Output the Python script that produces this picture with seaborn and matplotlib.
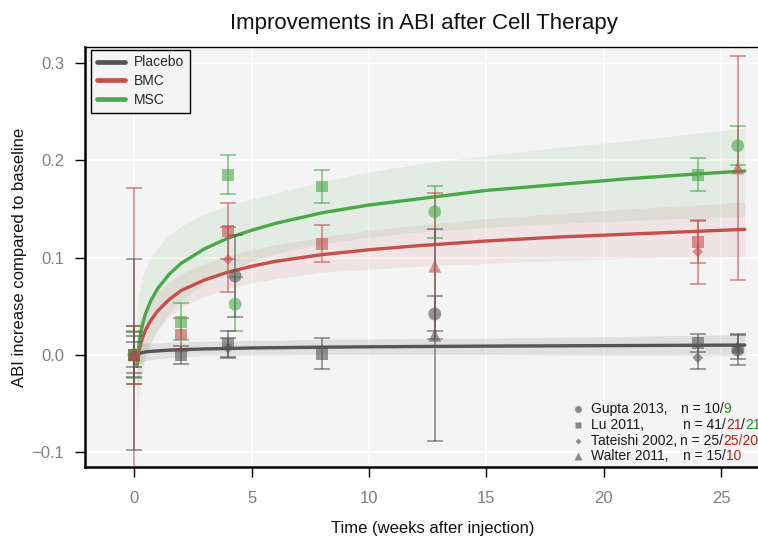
import matplotlib
matplotlib.use("Agg")
import matplotlib.pyplot as plt
import seaborn as sns
import pandas as pd
from matplotlib.lines import Line2D
from matplotlib.offsetbox import TextArea, HPacker, AnnotationBbox

# ---------------- data ----------------
groups = ["Placebo", "BMC", "MSC"]
colors = {"Placebo": "#555555", "BMC": "#c4504e", "MSC": "#4aa84a"}

# study observations
gupta_t = [0, 4.3, 12.8, 25.7]
gupta_placebo = [0.0, 0.081, 0.042, 0.005]
gupta_placebo_err = [0.013, 0.042, 0.018, 0.016]
gupta_msc = [0.0, 0.052, 0.147, 0.215]
gupta_msc_err = [0.024, 0.028, 0.027, 0.020]

lu_t = [0, 2, 4, 8, 24]
lu_placebo = [0.0, 0.0, 0.011, 0.001, 0.012]
lu_placebo_err = [0.019, 0.009, 0.013, 0.016, 0.009]
lu_bmc = [0.0, 0.021, 0.127, 0.114, 0.116]
lu_bmc_err = [0.030, 0.017, 0.029, 0.019, 0.022]
lu_msc = [0.0, 0.034, 0.185, 0.173, 0.185]
lu_msc_err = [0.030, 0.019, 0.020, 0.017, 0.017]

tateishi_t = [0, 4, 24]
tateishi_placebo = [0.0, 0.007, -0.003]
tateishi_placebo_err = [0.023, 0.010, 0.012]
tateishi_bmc = [0.0, 0.098, 0.106]
tateishi_bmc_err = [0.171, 0.033, 0.033]

walter_t = [0, 12.8, 25.7]
walter_placebo = [0.0, 0.020, 0.008]
walter_placebo_err = [0.098, 0.109, 0.012]
walter_bmc = [0.0, 0.091, 0.192]
walter_bmc_err = [0.030, 0.075, 0.115]

# fitted curves with confidence bands
fit_t = [0.12, 0.15, 0.2, 0.3, 0.4, 0.5, 0.7, 1, 1.5, 2, 3, 4, 5, 6, 8, 10, 12, 15, 18, 21, 24, 26]
placebo_fit = [0.0, 0.0005, 0.001, 0.002, 0.0025, 0.003, 0.0035, 0.004, 0.0048, 0.0053, 0.006, 0.0065,
               0.007, 0.0073, 0.0078, 0.0082, 0.0085, 0.0089, 0.0092, 0.0095, 0.0098, 0.010]
placebo_lo = [-0.012, -0.011, -0.009, -0.008, -0.007, -0.006, -0.005, -0.004, -0.003, -0.002, -0.001, -0.001,
              -0.0005, -0.0005, 0.0, 0.0, 0.0, 0.0, -0.0005, -0.0008, -0.001, -0.001]
placebo_hi = [0.012, 0.012, 0.011, 0.012, 0.012, 0.012, 0.012, 0.012, 0.013, 0.013, 0.014, 0.014,
              0.015, 0.015, 0.016, 0.016, 0.017, 0.017, 0.018, 0.019, 0.020, 0.021]
bmc_fit = [-0.012, -0.005, 0.003, 0.013, 0.020, 0.026, 0.035, 0.045, 0.057, 0.066, 0.077, 0.085,
           0.091, 0.096, 0.103, 0.108, 0.112, 0.117, 0.121, 0.124, 0.127, 0.129]
bmc_hi = [0.020, 0.025, 0.031, 0.039, 0.045, 0.050, 0.057, 0.065, 0.075, 0.083, 0.094, 0.102,
          0.108, 0.113, 0.121, 0.128, 0.133, 0.140, 0.145, 0.150, 0.154, 0.157]
bmc_lo = [-0.045, -0.035, -0.025, -0.013, -0.005, 0.002, 0.013, 0.025, 0.039, 0.049, 0.060, 0.068,
          0.074, 0.078, 0.085, 0.088, 0.091, 0.094, 0.097, 0.099, 0.100, 0.101]
msc_fit = [-0.010, -0.002, 0.009, 0.024, 0.035, 0.043, 0.055, 0.068, 0.083, 0.094, 0.109, 0.120,
           0.128, 0.135, 0.146, 0.154, 0.160, 0.169, 0.175, 0.181, 0.186, 0.189]
msc_hi = [0.045, 0.052, 0.062, 0.074, 0.083, 0.090, 0.100, 0.110, 0.123, 0.132, 0.145, 0.154,
          0.160, 0.166, 0.178, 0.188, 0.196, 0.205, 0.213, 0.220, 0.228, 0.233]
msc_lo = [-0.065, -0.056, -0.044, -0.026, -0.013, -0.004, 0.010, 0.026, 0.043, 0.056, 0.073, 0.086,
          0.096, 0.104, 0.114, 0.121, 0.126, 0.131, 0.135, 0.138, 0.141, 0.142]

x_ticks = [0, 5, 10, 15, 20, 25]
y_ticks = [-0.1, 0.0, 0.1, 0.2, 0.3]

# ---------------- build tables ----------------
rows = []
def add(study, group, t, v, e):
    for ti, vi, ei in zip(t, v, e):
        rows.append(dict(study=study, group=group, time=ti, value=vi, err=ei))

add("Gupta 2013", "Placebo", gupta_t, gupta_placebo, gupta_placebo_err)
add("Gupta 2013", "MSC", gupta_t, gupta_msc, gupta_msc_err)
add("Lu 2011", "Placebo", lu_t, lu_placebo, lu_placebo_err)
add("Lu 2011", "BMC", lu_t, lu_bmc, lu_bmc_err)
add("Lu 2011", "MSC", lu_t, lu_msc, lu_msc_err)
add("Tateishi 2002", "Placebo", tateishi_t, tateishi_placebo, tateishi_placebo_err)
add("Tateishi 2002", "BMC", tateishi_t, tateishi_bmc, tateishi_bmc_err)
add("Walter 2011", "Placebo", walter_t, walter_placebo, walter_placebo_err)
add("Walter 2011", "BMC", walter_t, walter_bmc, walter_bmc_err)
obs = pd.DataFrame(rows)

fits = pd.DataFrame({
    "time": fit_t * 3,
    "value": placebo_fit + bmc_fit + msc_fit,
    "lo": placebo_lo + bmc_lo + msc_lo,
    "hi": placebo_hi + bmc_hi + msc_hi,
    "group": ["Placebo"] * len(fit_t) + ["BMC"] * len(fit_t) + ["MSC"] * len(fit_t),
})

# ---------------- styling ----------------
sns.set_theme(style="darkgrid", rc={
    "axes.facecolor": "#f4f4f4",
    "grid.color": "white",
    "grid.linewidth": 1.2,
    "figure.facecolor": "white",
})
plt.rcParams["font.family"] = ["Liberation Sans", "DejaVu Sans"]

W, H = 758, 540
fig = plt.figure(figsize=(W / 100, H / 100), dpi=100)
ax = fig.add_axes([85 / W, 73 / H, 695 / W, 420 / H])

band_alpha = {"Placebo": 0.13, "BMC": 0.10, "MSC": 0.10}
for g in groups:
    sub = fits[fits.group == g]
    ax.fill_between(sub.time, sub.lo, sub.hi, color=colors[g], alpha=band_alpha[g], lw=0, zorder=1)
for g in groups:
    sub = fits[fits.group == g]
    sns.lineplot(data=sub, x="time", y="value", color=colors[g], lw=2.4, ax=ax, zorder=3,
                 legend=False, estimator=None, sort=False)

markers = {"Gupta 2013": ("o", 85), "Lu 2011": ("s", 70), "Tateishi 2002": ("D", 30),
           "Walter 2011": ("^", 85)}
for (study, g), sub in obs.groupby(["study", "group"]):
    ax.errorbar(sub.time, sub.value, yerr=sub.err, fmt="none", ecolor=colors[g], alpha=0.6,
                elinewidth=1.3, capsize=6, capthick=1.3, zorder=4)
for study, (m, s) in markers.items():
    sub = obs[obs.study == study]
    sns.scatterplot(data=sub, x="time", y="value", hue="group", palette=colors, marker=m, s=s,
                    alpha=0.6, edgecolor="none", legend=False, ax=ax, zorder=5)

ax.set_xlim(-2.09, 27.5)
ax.set_ylim(-0.1154, 0.3165)
ax.set_xticks(x_ticks)
ax.set_yticks(y_ticks)
ax.set_xticklabels([str(t) for t in x_ticks])
ax.set_yticklabels(["\u22120.1", "0.0", "0.1", "0.2", "0.3"])
ax.tick_params(axis="both", which="major", direction="out", length=7, width=1, color="black",
               labelcolor="#7f7f7f", labelsize=12, left=True, bottom=True)
ax.tick_params(axis="x", pad=10)
ax.tick_params(axis="y", pad=8)
for side in ["left", "bottom"]:
    ax.spines[side].set_visible(True)
    ax.spines[side].set_color("black")
    ax.spines[side].set_linewidth(1.8)
ax.spines["top"].set_visible(True)
ax.spines["top"].set_color("black")
ax.spines["top"].set_linewidth(1.0)
ax.spines["right"].set_visible(False)

ax.set_xlabel("Time (weeks after injection)", fontsize=12, color="#111111", labelpad=11)
ax.set_ylabel("ABI increase compared to baseline", fontsize=12, color="#111111", labelpad=3)
ax.set_title("Improvements in ABI after Cell Therapy", fontsize=16, color="#111111", pad=13,
             x=(424 - 85) / 695)

handles = [Line2D([0], [0], color=colors[g], lw=3.4) for g in groups]
leg = ax.legend(handles, groups, loc="upper left", bbox_to_anchor=(0.009, 0.993),
                borderaxespad=0, fontsize=10, frameon=True, fancybox=False,
                handlelength=2.0, handletextpad=0.7, labelspacing=0.35, borderpad=0.4)
leg.get_frame().set_edgecolor("black")
leg.get_frame().set_linewidth(1.0)
leg.get_frame().set_facecolor("#f4f4f4")
leg.get_frame().set_alpha(1)

# bottom-right study key
def ax_x(px):
    return (px - 85) / 695
def ax_y(py):
    return (467 - py) / 420

TXT, RED, GRN = "#1a1a1a", "#b22222", "#228b22"
study_rows = [
    ("Gupta 2013,", "o", 409, 681, [("n = 10/", TXT), ("9", GRN)]),
    ("Lu 2011,", "s", 425, 683, [("n = 41/", TXT), ("21", RED), ("/", TXT), ("21", GRN)]),
    ("Tateishi 2002,", "D", 441, 680, [("n = 25/", TXT), ("25/20", RED)]),
    ("Walter 2011,", "^", 456, 683, [("n = 15/", TXT), ("10", RED)]),
]
msize = {"o": 5, "s": 5, "D": 3, "^": 5.5}
for name, m, py, nx, parts in study_rows:
    ax.plot([ax_x(578)], [ax_y(py)], marker=m, ms=msize[m], color="#8a8a8a", mec="none",
            transform=ax.transAxes, zorder=6, clip_on=False)
    ax.text(ax_x(591), ax_y(py), name, transform=ax.transAxes, fontsize=10, color=TXT,
            va="center", ha="left", zorder=6)
    areas = [TextArea(t, textprops=dict(color=c, fontsize=10)) for t, c in parts]
    pack = HPacker(children=areas, align="baseline", pad=0, sep=0)
    ab = AnnotationBbox(pack, (ax_x(nx), ax_y(py)), xycoords=ax.transAxes, box_alignment=(0, 0.5),
                        frameon=False, pad=0, zorder=6)
    ax.add_artist(ab)

fig.savefig("out.png", dpi=100)
